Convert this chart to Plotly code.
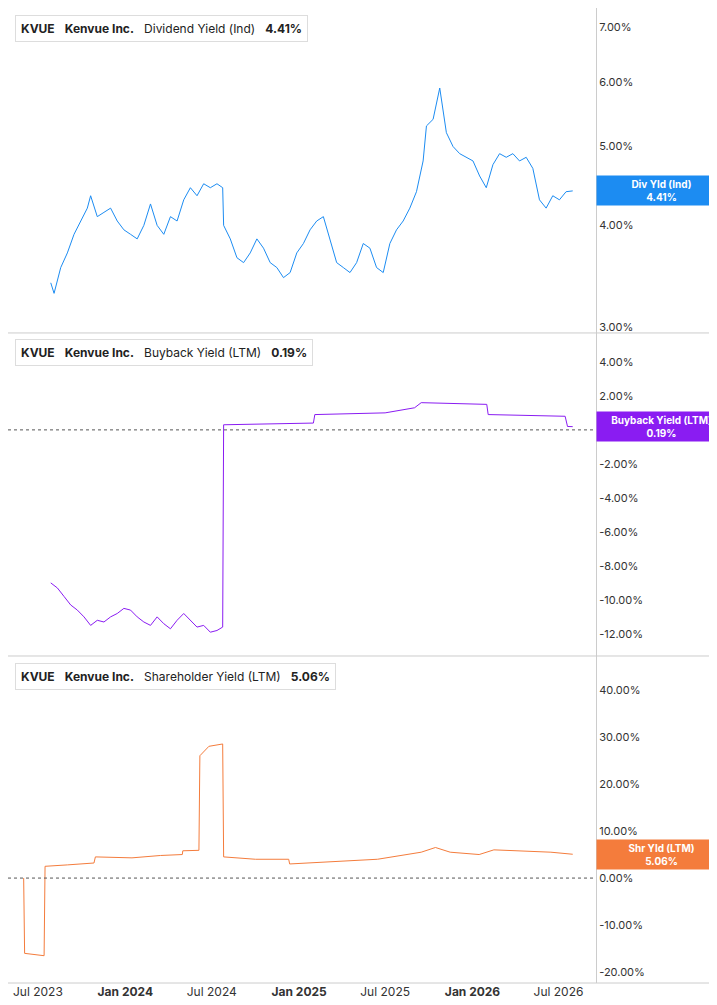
import plotly.graph_objects as go
import math

div_dates = ["2023-07-28","2023-08-04","2023-08-18","2023-09-01","2023-09-15","2023-09-29","2023-10-13","2023-10-20","2023-11-03","2023-11-17","2023-12-01","2023-12-15","2023-12-29","2024-01-12","2024-01-26","2024-02-09","2024-02-23","2024-03-08","2024-03-22","2024-04-05","2024-04-19","2024-05-03","2024-05-17","2024-05-31","2024-06-14","2024-06-28","2024-07-12","2024-07-24","2024-07-26","2024-08-09","2024-08-23","2024-09-06","2024-09-20","2024-10-04","2024-10-18","2024-11-01","2024-11-15","2024-11-29","2024-12-13","2024-12-27","2025-01-10","2025-01-24","2025-02-07","2025-02-21","2025-03-07","2025-03-21","2025-04-04","2025-04-18","2025-05-02","2025-05-16","2025-05-30","2025-06-13","2025-06-27","2025-07-11","2025-07-25","2025-08-08","2025-08-22","2025-09-05","2025-09-19","2025-09-26","2025-10-10","2025-10-24","2025-11-07","2025-11-21","2025-12-05","2025-12-19","2026-01-02","2026-01-16","2026-01-30","2026-02-13","2026-02-27","2026-03-13","2026-03-27","2026-04-10","2026-04-24","2026-05-08","2026-05-22","2026-06-05","2026-06-19","2026-07-03","2026-07-17","2026-07-31"]
div_vals = [3.4,3.3,3.55,3.7,3.9,4.05,4.2,4.35,4.1,4.15,4.2,4.05,3.95,3.9,3.85,4.0,4.25,4.0,3.9,4.1,4.05,4.3,4.45,4.35,4.5,4.45,4.5,4.45,4.0,3.85,3.65,3.6,3.7,3.85,3.75,3.6,3.55,3.45,3.5,3.7,3.8,3.95,4.05,4.1,3.85,3.6,3.55,3.5,3.6,3.8,3.75,3.55,3.5,3.8,3.95,4.05,4.2,4.4,4.8,5.3,5.4,5.9,5.2,5.0,4.9,4.85,4.8,4.6,4.45,4.75,4.9,4.85,4.9,4.8,4.85,4.7,4.3,4.2,4.35,4.3,4.4,4.41]

bb_dates = ["2023-07-28","2023-08-11","2023-08-25","2023-09-08","2023-09-22","2023-10-06","2023-10-20","2023-11-03","2023-11-17","2023-12-01","2023-12-15","2023-12-29","2024-01-12","2024-01-26","2024-02-09","2024-02-23","2024-03-08","2024-03-22","2024-04-05","2024-04-19","2024-05-03","2024-05-17","2024-05-31","2024-06-14","2024-06-28","2024-07-12","2024-07-24","2024-07-26","2024-10-01","2025-01-31","2025-02-03","2025-07-01","2025-09-01","2025-09-15","2026-01-31","2026-02-03","2026-07-15","2026-07-20","2026-07-31"]
bb_vals = [-9.0,-9.3,-9.8,-10.3,-10.6,-11.0,-11.5,-11.2,-11.3,-11.0,-10.8,-10.5,-10.6,-11.0,-11.3,-11.5,-11.0,-11.4,-11.7,-11.2,-10.8,-11.2,-11.6,-11.5,-11.9,-11.8,-11.6,0.3,0.35,0.4,0.9,1.0,1.3,1.6,1.5,0.9,0.8,0.2,0.19]

sh_dates = ["2023-06-01","2023-06-03","2023-07-14","2023-07-16","2023-09-01","2023-10-27","2023-10-30","2024-01-15","2024-03-15","2024-04-30","2024-05-01","2024-06-04","2024-06-06","2024-06-25","2024-07-24","2024-07-26","2024-10-01","2024-12-10","2024-12-12","2025-03-15","2025-06-15","2025-09-15","2025-10-15","2025-11-15","2026-01-15","2026-02-15","2026-06-15","2026-07-31"]
sh_vals = [0.0,-16.0,-16.5,2.5,2.8,3.2,4.5,4.3,4.8,5.0,5.8,5.9,26.0,28.0,28.5,4.5,4.0,4.0,3.0,3.5,4.0,5.5,6.5,5.5,5.0,6.0,5.5,5.06]

x_ticks = ["2023-07-01","2024-01-01","2024-07-01","2025-01-01","2025-07-01","2026-01-01","2026-07-01"]
x_text = ["Jul 2023","<b>Jan 2024</b>","Jul 2024","<b>Jan 2025</b>","Jul 2025","<b>Jan 2026</b>","Jul 2026"]

c1, c2, c3 = "#1c8cf2", "#8a1cf2", "#f47c3c"
fig = go.Figure()
fig.add_trace(go.Scatter(x=div_dates, y=div_vals, mode="lines", line=dict(color=c1, width=1), xaxis="x", yaxis="y"))
fig.add_trace(go.Scatter(x=bb_dates, y=bb_vals, mode="lines", line=dict(color=c2, width=1), xaxis="x2", yaxis="y2"))
fig.add_trace(go.Scatter(x=sh_dates, y=sh_vals, mode="lines", line=dict(color=c3, width=1), xaxis="x3", yaxis="y3"))

xr = ["2023-04-29", "2026-09-18"]
xcommon = dict(range=xr, showgrid=False, zeroline=False, tickvals=x_ticks, ticktext=x_text, tickfont=dict(size=12, color="#333"))
ycommon = dict(side="right", showgrid=False, zeroline=False, showline=True, linecolor="#ccc", ticks="", tickfont=dict(size=11, color="#333"))
fig.update_layout(
    width=717, height=1005, margin=dict(l=0, r=129, t=0, b=30, autoexpand=False),
    plot_bgcolor="white", paper_bgcolor="white", showlegend=False,
    font=dict(family="Inter, Roboto, sans-serif"),
    xaxis=dict(**xcommon, anchor="y", showticklabels=False),
    xaxis2=dict(**xcommon, anchor="y2", matches="x", showticklabels=False),
    xaxis3=dict(**xcommon, anchor="y3", matches="x"),
    yaxis=dict(**ycommon, type="log", domain=[0.6667, 1], range=[math.log10(2.95), math.log10(7.4)],
               tickvals=[3,4,5,6,7], ticktext=["3.00%","4.00%","5.00%","6.00%","7.00%"]),
    yaxis2=dict(**ycommon, domain=[0.3354, 0.6667], range=[-13.3, 5.7],
                tickvals=[-12,-10,-8,-6,-4,-2,0,2,4], ticktext=["-12.00%","-10.00%","-8.00%","-6.00%","-4.00%","-2.00%","0.00%","2.00%","4.00%"]),
    yaxis3=dict(**ycommon, domain=[0, 0.3354], range=[-22.3, 47.2],
                tickvals=[-20,-10,0,10,20,30,40], ticktext=["-20.00%","-10.00%","0.00%","10.00%","20.00%","30.00%","40.00%"]),
)
shapes = []
for yv in [0.6667, 0.3354, 0]:
    shapes.append(dict(type="line", xref="paper", yref="paper", x0=0, x1=1.22, y0=yv, y1=yv, line=dict(color="#ccc", width=1)))
for ya in ["y2", "y3"]:
    shapes.append(dict(type="line", xref="paper", yref=ya, x0=0, x1=1, y0=0, y1=0, line=dict(color="#555", width=1, dash="dot")))

anns = []
legends = [("Dividend Yield (Ind)", "4.41%", c1, 0.993), ("Buyback Yield (LTM)", "0.19%", c2, 0.660), ("Shareholder Yield (LTM)", "5.06%", c3, 0.328)]
for name, val, col, yp in legends:
    anns.append(dict(xref="paper", yref="paper", x=0.012, y=yp, xanchor="left", yanchor="top", showarrow=False, align="left",
                     text=f"<b>KVUE</b>   <b>Kenvue Inc.</b>   {name}   <b>{val}</b>", font=dict(size=12, color="#222"),
                     bordercolor="#ddd", borderwidth=1, borderpad=5, bgcolor="white"))
    shapes.append(dict(type="rect", xref="paper", yref="paper", x0=0.012, x1=0.019, y0=yp-0.024, y1=yp-0.002, fillcolor=col, line=dict(width=0)))
fig.update_layout(shapes=shapes)
labels = [("Div Yld (Ind)", "4.41%", c1, "y", 4.41), ("Buyback Yield (LTM)", "0.19%", c2, "y2", 0.19), ("Shr Yld (LTM)", "5.06%", c3, "y3", 5.06)]
for name, val, col, ya, v in labels:
    yv = math.log10(v) if ya == "y" else v
    anns.append(dict(xref="paper", yref=ya, x=1.0, y=yv, xanchor="left", yanchor="middle", showarrow=False,
                     text=f"<b>{name}<br>{val}</b>", font=dict(size=10, color="white"), bgcolor=col,
                     width=125, borderpad=2, align="center"))
fig.update_layout(annotations=anns)
fig.write_html("out.html")
